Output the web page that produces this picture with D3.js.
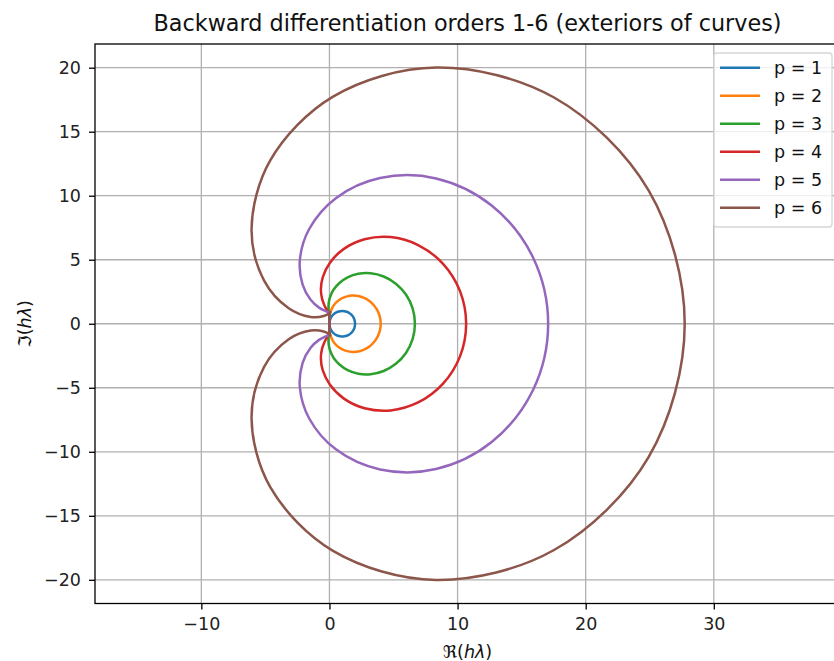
<!DOCTYPE html>
<html>
<head>
<meta charset="utf-8">
<script src="https://cdn.jsdelivr.net/npm/d3@7"></script>
<style>
  body { margin: 0; background: #fff; }
  svg { font-family: "DejaVu Sans", sans-serif; }
</style>
</head>
<body>
<div id="chart"></div>
<script>
// boundary points of each region (origin -> upper half -> rightmost -> lower half -> origin)
const p1 = [[0,0],[0.02,0.17],[0.06,0.34],[0.13,0.50],[0.23,0.64],[0.36,0.77],[0.50,0.87],[0.66,0.94],[0.83,0.98],[1.00,1.00],
  [1.17,0.98],[1.34,0.94],[1.50,0.87],[1.64,0.77],[1.77,0.64],[1.87,0.50],[1.94,0.34],[1.98,0.17],[2.00,0],
  [1.98,-0.17],[1.94,-0.34],[1.87,-0.50],[1.77,-0.64],[1.64,-0.77],[1.50,-0.87],[1.34,-0.94],[1.17,-0.98],[1.00,-1.00],
  [0.83,-0.98],[0.66,-0.94],[0.50,-0.87],[0.36,-0.77],[0.23,-0.64],[0.13,-0.50],[0.06,-0.34],[0.02,-0.17],[0,0]]
const p2 = [[0,0],[0.00,0.20],[0.00,0.36],[0.02,0.57],[0.05,0.79],[0.13,1.04],[0.25,1.30],[0.43,1.56],[0.68,1.80],[1.00,2.00],
  [1.38,2.14],[1.80,2.20],[2.25,2.17],[2.70,2.02],[3.12,1.78],[3.48,1.43],[3.76,1.01],[3.94,0.52],[4.00,0],
  [3.94,-0.52],[3.76,-1.01],[3.48,-1.43],[3.12,-1.78],[2.70,-2.02],[2.25,-2.17],[1.80,-2.20],[1.38,-2.14],[1.00,-2.00],
  [0.68,-1.80],[0.43,-1.56],[0.25,-1.30],[0.13,-1.04],[0.05,-0.79],[0.02,-0.57],[0.00,-0.36],[0.00,-0.20],[0,0]]
const p3 = [[0,0],[0.00,0.20],[0.00,0.35],[-0.01,0.53],[-0.04,0.74],[-0.07,0.99],[-0.08,1.30],[-0.05,1.69],[0.07,2.15],[0.33,2.67],
  [0.78,3.18],[1.42,3.62],[2.25,3.90],[3.21,3.94],[4.23,3.69],[5.18,3.13],[5.97,2.28],[6.49,1.20],[6.67,0],
  [6.49,-1.20],[5.97,-2.28],[5.18,-3.13],[4.23,-3.69],[3.21,-3.94],[2.25,-3.90],[1.42,-3.62],[0.78,-3.18],[0.33,-2.67],
  [0.07,-2.15],[-0.05,-1.69],[-0.08,-1.30],[-0.07,-0.99],[-0.04,-0.74],[-0.01,-0.53],[0.00,-0.35],[0.00,-0.20],[0,0]]
const p4 = [[0,0],[0.00,0.20],[0.00,0.35],[-0.01,0.52],[-0.03,0.69],[-0.09,0.86],[-0.21,1.08],[-0.38,1.41],[-0.57,1.92],[-0.67,2.67],
  [-0.52,3.65],[0.04,4.77],[1.13,5.85],[2.74,6.60],[4.77,6.77],[6.92,6.15],[8.85,4.70],[10.19,2.55],[10.67,0],
  [10.19,-2.55],[8.85,-4.70],[6.92,-6.15],[4.77,-6.77],[2.74,-6.60],[1.13,-5.85],[0.04,-4.77],[-0.52,-3.65],[-0.67,-2.67],
  [-0.57,-1.92],[-0.38,-1.41],[-0.21,-1.08],[-0.09,-0.86],[-0.03,-0.69],[-0.01,-0.52],[0.00,-0.35],[0.00,-0.20],[0,0]]
const p5 = [[0,0],[0.00,0.20],[0.00,0.35],[0.00,0.52],[0.00,0.68],[-0.02,0.81],[-0.11,0.91],[-0.35,1.01],[-0.81,1.26],[-1.47,1.87],
  [-2.10,3.07],[-2.31,4.98],[-1.58,7.40],[0.50,9.81],[3.95,11.38],[8.32,11.35],[12.66,9.24],[15.88,5.20],[17.07,0],
  [15.88,-5.20],[12.66,-9.24],[8.32,-11.35],[3.95,-11.38],[0.50,-9.81],[-1.58,-7.40],[-2.31,-4.98],[-2.10,-3.07],[-1.47,-1.87],
  [-0.81,-1.26],[-0.35,-1.01],[-0.11,-0.91],[-0.02,-0.81],[0.00,-0.68],[0.00,-0.52],[0.00,-0.35],[0.00,-0.20],[0,0]]
const p6 = [[0,0],[0.00,0.20],[0.00,0.35],[0.00,0.52],[0.01,0.70],[0.03,0.84],[0.06,0.91],[-0.02,0.82],[-0.44,0.61],[-1.47,0.53],
  [-3.18,1.21],[-5.10,3.37],[-6.08,7.40],[-4.62,12.76],[0.28,17.74],[8.32,20.01],[17.53,17.67],[24.91,10.41],[27.73,0],
  [24.91,-10.41],[17.53,-17.67],[8.32,-20.01],[0.28,-17.74],[-4.62,-12.76],[-6.08,-7.40],[-5.10,-3.37],[-3.18,-1.21],[-1.47,-0.53],
  [-0.44,-0.61],[-0.02,-0.82],[0.06,-0.91],[0.03,-0.84],[0.01,-0.70],[0.00,-0.52],[0.00,-0.35],[0.00,-0.20],[0,0]]

const curves = [p1, p2, p3, p4, p5, p6]
const labels = ["p = 1", "p = 2", "p = 3", "p = 4", "p = 5", "p = 6"]
const colors = ["#1f77b4", "#ff7f0e", "#2ca02c", "#d62728", "#9467bd", "#8c564b"]
const xTicks = [-10, 0, 10, 20, 30]
const yTicks = [-20, -15, -10, -5, 0, 5, 10, 15, 20]

const W = 834, H = 661
const mLeft = 95, mRight = 840, mTop = 44, mBottom = 603.5
const fs = 17.5

const x = d3.scaleLinear().domain([-18.3, 39.85]).range([mLeft, mRight])
const y = d3.scaleLinear().domain([-21.85, 21.85]).range([mBottom, mTop])

const svg = d3.select("#chart").append("svg")
    .attr("width", W)
    .attr("height", H)

svg.append("defs").append("clipPath").attr("id", "clip")
    .append("rect")
    .attr("x", mLeft).attr("y", mTop)
    .attr("width", mRight - mLeft).attr("height", mBottom - mTop)

// grid
const grid = svg.append("g")
grid.selectAll("line.gx").data(xTicks).enter().append("line")
    .attr("x1", d => x(d)).attr("x2", d => x(d))
    .attr("y1", mTop).attr("y2", mBottom)
    .attr("stroke", "#b0b0b0").attr("stroke-width", 1.3)
grid.selectAll("line.gy").data(yTicks).enter().append("line")
    .attr("x1", mLeft).attr("x2", mRight)
    .attr("y1", d => y(d)).attr("y2", d => y(d))
    .attr("stroke", "#b0b0b0").attr("stroke-width", 1.3)

// curves
const line = d3.line()
    .x(d => x(d[0]))
    .y(d => y(d[1]))
    .curve(d3.curveCatmullRom.alpha(0.5))

svg.append("g").attr("clip-path", "url(#clip)")
    .selectAll("path").data(curves).enter().append("path")
    .attr("d", line)
    .attr("fill", "none")
    .attr("stroke", (d, i) => colors[i])
    .attr("stroke-width", 2.5)
    .attr("stroke-linejoin", "round")

// axes
const xAxis = svg.append("g")
    .attr("transform", "translate(0," + mBottom + ")")
    .call(d3.axisBottom(x).tickValues(xTicks).tickSize(6).tickPadding(8))
const yAxis = svg.append("g")
    .attr("transform", "translate(" + mLeft + ",0)")
    .call(d3.axisLeft(y).tickValues(yTicks).tickSize(6).tickPadding(8))

;[xAxis, yAxis].forEach(a => {
    a.select(".domain").remove()
    a.selectAll("line").attr("stroke", "#000").attr("stroke-width", 1.3)
    a.selectAll("text").attr("font-size", fs).attr("font-family", "DejaVu Sans").attr("fill", "#222")
})

// spines
svg.append("rect")
    .attr("x", mLeft).attr("y", mTop)
    .attr("width", mRight - mLeft).attr("height", mBottom - mTop)
    .attr("fill", "none").attr("stroke", "#000").attr("stroke-width", 1.3)

// title
svg.append("text")
    .attr("x", (mLeft + mRight) / 2).attr("y", 31)
    .attr("text-anchor", "middle")
    .attr("font-size", 22.3)
    .attr("fill", "#111")
    .text("Backward differentiation orders 1-6 (exteriors of curves)")

// axis labels
const xl = svg.append("text")
    .attr("x", (mLeft + mRight) / 2).attr("y", 657.5)
    .attr("text-anchor", "middle")
    .attr("font-size", fs)
    .attr("fill", "#111")
xl.append("tspan").text("ℜ(")
xl.append("tspan").attr("font-style", "italic").text("hλ")
xl.append("tspan").text(")")

const yl = svg.append("text")
    .attr("transform", "translate(31," + ((mTop + mBottom) / 2) + ") rotate(-90)")
    .attr("text-anchor", "middle")
    .attr("font-size", fs)
    .attr("fill", "#111")
yl.append("tspan").text("ℑ(")
yl.append("tspan").attr("font-style", "italic").text("hλ")
yl.append("tspan").text(")")

// legend
const lg = svg.append("g")
lg.append("rect")
    .attr("x", 714).attr("y", 53)
    .attr("width", 118).attr("height", 174)
    .attr("rx", 3)
    .attr("fill", "#fff").attr("fill-opacity", 0.8)
    .attr("stroke", "#d6d6d6").attr("stroke-width", 1.3)
const items = lg.selectAll("g.item").data(labels).enter().append("g")
    .attr("transform", (d, i) => "translate(0," + (67.7 + i * 28) + ")")
items.append("line")
    .attr("x1", 720).attr("x2", 760)
    .attr("stroke", (d, i) => colors[i])
    .attr("stroke-width", 2.5)
items.append("text")
    .attr("x", 774).attr("dy", "0.35em")
    .attr("font-size", fs)
    .attr("fill", "#111")
    .text(d => d)
</script>
</body>
</html>
